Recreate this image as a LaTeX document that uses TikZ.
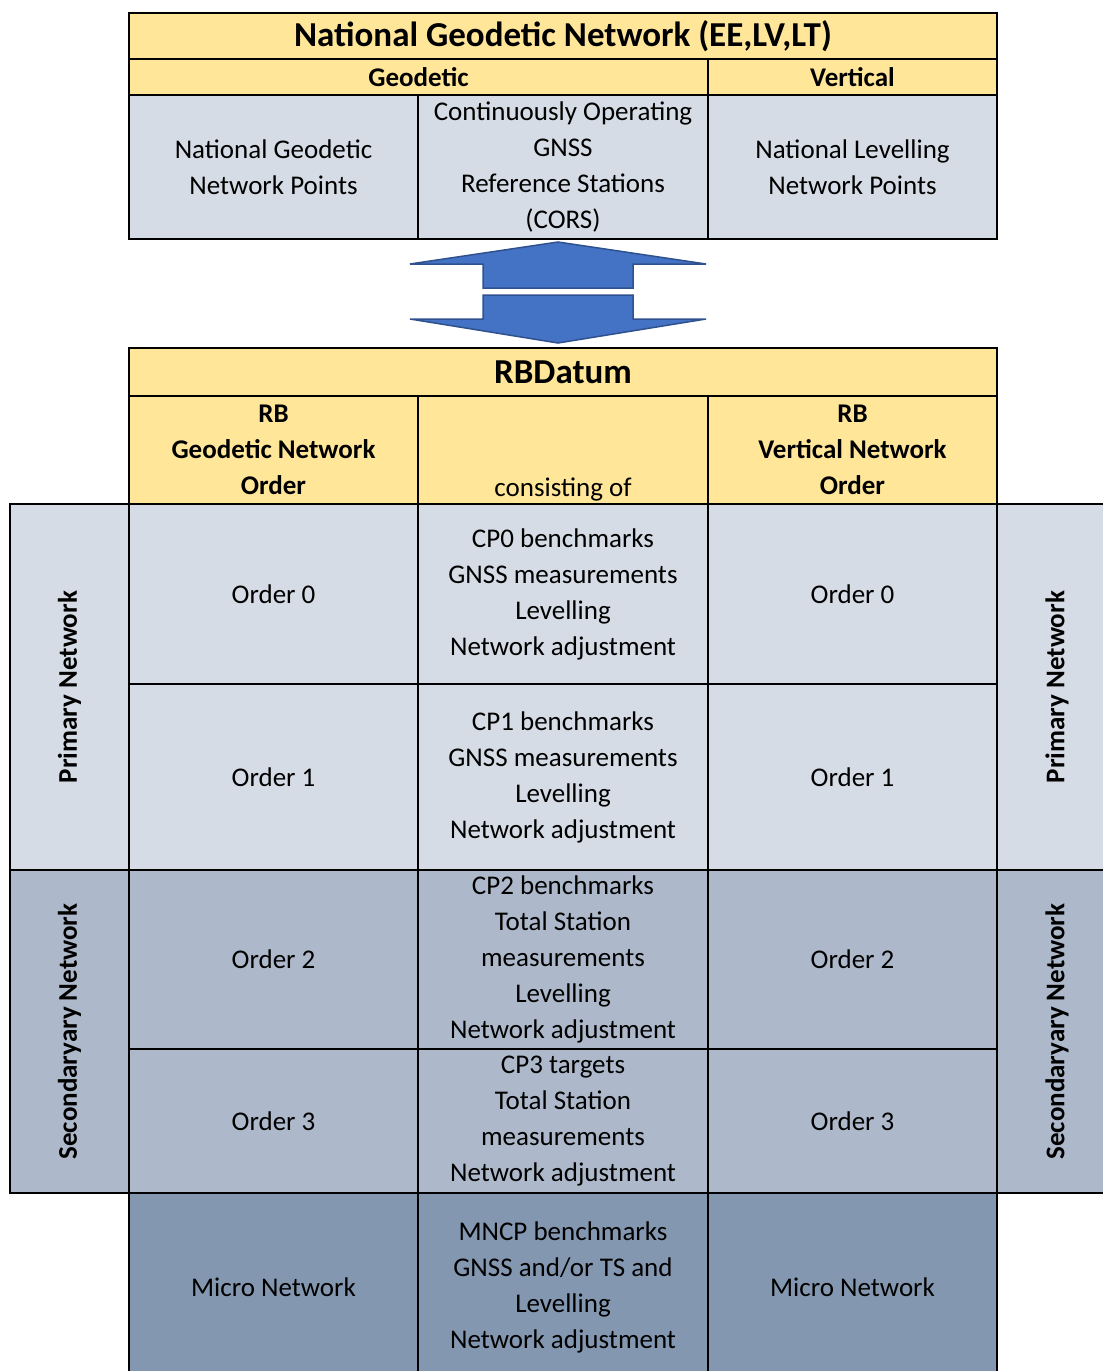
\documentclass[tikz,border=0pt]{standalone}
\usepackage{fontspec}
\setmainfont{Carlito}
\usepackage{tikz}
\definecolor{hdryellow}{HTML}{FFE699}
\definecolor{rowlight}{HTML}{D6DCE5}
\definecolor{rowmid}{HTML}{ADB9CA}
\definecolor{rowdark}{HTML}{8497B0}
\definecolor{arrowblue}{HTML}{4472C4}
\definecolor{arrowedge}{HTML}{2F528F}
\tikzset{
  cell/.style={draw, rectangle, inner sep=0, align=center, font=\fontsize{27}{36}\selectfont},
  thincell/.style={cell, line width=1.5},
  thickcell/.style={cell, line width=2.6},
  boldcell/.style={font=\fontsize{27}{36}\selectfont\bfseries},
  titlecell/.style={font=\fontsize{35}{36}\selectfont\bfseries},
  sidecell/.style={cell, line width=1.5, rotate=90, font=\fontsize{27}{36}\selectfont\bfseries},
}

\begin{document}
\begin{tikzpicture}[x=1pt, y=-1pt]
\useasboundingbox (0,0) rectangle (1103,1371);
\fill[white] (0,0) rectangle (1103,1371);
% national network table
\node[thincell, titlecell, fill=hdryellow, minimum width=868, minimum height=46] (nat) at (563,36) {National Geodetic Network (EE,LV,LT)};
\node[thincell, boldcell, fill=hdryellow, minimum width=579, minimum height=36] (natgeo) at (418.5,77) {Geodetic};
\node[thincell, boldcell, fill=hdryellow, minimum width=289, minimum height=36] (natvert) at (852.5,77) {Vertical};
\node[thincell, fill=rowlight, minimum width=289, minimum height=144] (natpts) at (273.5,167) {National Geodetic\\Network Points};
\node[thincell, fill=rowlight, minimum width=290, minimum height=144] (cors) at (563,167) {Continuously Operating\\GNSS\\Reference Stations\\(CORS)};
\node[thincell, fill=rowlight, minimum width=289, minimum height=144] (levpts) at (852.5,167) {National Levelling\\Network Points};
% up/down arrow
\draw[fill=arrowblue, draw=arrowedge, line width=1.5, line join=miter] (558,242) -- (706,264) -- (633,264) -- (633,288) -- (483,288) -- (483,264) -- (410,264) -- cycle;
\draw[fill=arrowblue, draw=arrowedge, line width=1.5, line join=miter] (483,295) -- (633,295) -- (633,319) -- (706,319) -- (558,343) -- (410,319) -- (483,319) -- cycle;
% side labels
\node[sidecell, fill=rowlight, minimum width=366, minimum height=119] (primL) at (69.5,687) {Primary Network};
\node[sidecell, fill=rowmid, minimum width=323, minimum height=119] (secL) at (69.5,1031.5) {Secondaryary Network};
\node[sidecell, fill=rowlight, minimum width=366, minimum height=120] (primR) at (1057,687) {Primary Network};
\node[sidecell, fill=rowmid, minimum width=323, minimum height=120] (secR) at (1057,1031.5) {Secondaryary Network};
% RB datum table
\node[thickcell, titlecell, fill=hdryellow, minimum width=868, minimum height=48] (rbd) at (563,372) {RBDatum};
\node[thickcell, boldcell, fill=hdryellow, minimum width=289, minimum height=108] (rbgeo) at (273.5,450) {RB\\Geodetic Network\\Order};
\node[thickcell, fill=hdryellow, minimum width=290, minimum height=108] (cons) at (563,450) {\strut\\\strut\\consisting of};
\node[thickcell, boldcell, fill=hdryellow, minimum width=289, minimum height=108] (rbvert) at (852.5,450) {RB\\Vertical Network\\Order};
\node[thickcell, fill=rowlight, minimum width=289, minimum height=180] (g0) at (273.5,594) {Order 0};
\node[thickcell, fill=rowlight, minimum width=290, minimum height=180] (m0) at (563,594) {CP0 benchmarks\\GNSS measurements\\Levelling\\Network adjustment};
\node[thickcell, fill=rowlight, minimum width=289, minimum height=180] (v0) at (852.5,594) {Order 0};
\node[thickcell, fill=rowlight, minimum width=289, minimum height=186] (g1) at (273.5,777) {Order 1};
\node[thickcell, fill=rowlight, minimum width=290, minimum height=186] (m1) at (563,777) {CP1 benchmarks\\GNSS measurements\\Levelling\\Network adjustment};
\node[thickcell, fill=rowlight, minimum width=289, minimum height=186] (v1) at (852.5,777) {Order 1};
\node[thickcell, fill=rowmid, minimum width=289, minimum height=179] (g2) at (273.5,959.5) {Order 2};
\node[thickcell, fill=rowmid, minimum width=290, minimum height=179] (m2) at (563,959.5) {CP2 benchmarks\\Total Station\\measurements\\Levelling\\Network adjustment};
\node[thickcell, fill=rowmid, minimum width=289, minimum height=179] (v2) at (852.5,959.5) {Order 2};
\node[thickcell, fill=rowmid, minimum width=289, minimum height=144] (g3) at (273.5,1121) {Order 3};
\node[thickcell, fill=rowmid, minimum width=290, minimum height=144] (m3) at (563,1121) {CP3 targets\\Total Station\\measurements\\Network adjustment};
\node[thickcell, fill=rowmid, minimum width=289, minimum height=144] (v3) at (852.5,1121) {Order 3};
\node[thickcell, fill=rowdark, minimum width=289, minimum height=188] (gmic) at (273.5,1287) {Micro Network};
\node[thickcell, fill=rowdark, minimum width=290, minimum height=188] (mmic) at (563,1287) {MNCP benchmarks\\GNSS and/or TS and\\Levelling\\Network adjustment};
\node[thickcell, fill=rowdark, minimum width=289, minimum height=188] (vmic) at (852.5,1287) {Micro Network};
\end{tikzpicture}
\end{document}
